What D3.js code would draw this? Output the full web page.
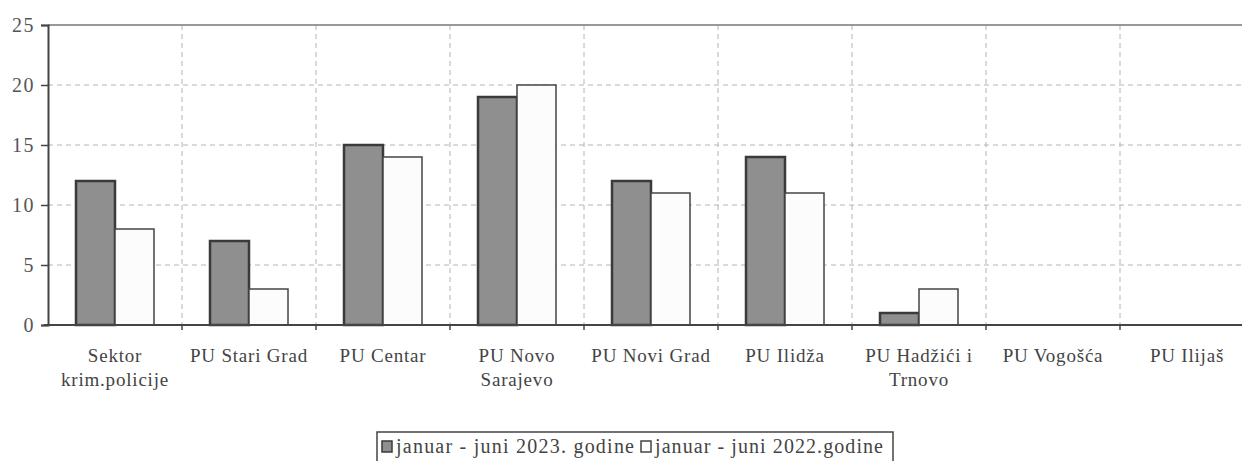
<!DOCTYPE html>
<html>
<head>
<meta charset="utf-8">
<script src="https://cdn.jsdelivr.net/npm/d3@7"></script>
<style>
  body { margin: 0; background: #fff; }
  svg text { font-family: "Liberation Serif", "Times New Roman", serif !important; }
</style>
</head>
<body>
<div id="chart"></div>
<script>
// Chart data
var categories = ["Sektor krim.policije", "PU Stari Grad", "PU Centar", "PU Novo Sarajevo",
    "PU Novi Grad", "PU Ilidža", "PU Hadžići i Trnovo", "PU Vogošća", "PU Ilijaš"];
// label lines as they wrap in the picture
var categoryLines = [["Sektor", "krim.policije"], ["PU Stari Grad"], ["PU Centar"], ["PU Novo", "Sarajevo"],
    ["PU Novi Grad"], ["PU Ilidža"], ["PU Hadžići i", "Trnovo"], ["PU Vogošća"], ["PU Ilijaš"]];
var seriesNames = ["januar - juni 2023. godine", "januar - juni 2022.godine"];
var values2023 = [12, 7, 15, 19, 12, 14, 1, 0, 0];
var values2022 = [8, 3, 14, 20, 11, 11, 3, 0, 0];
var yTicks = [0, 5, 10, 15, 20, 25];

var width = 1242;
var height = 461;
var serif = "'Liberation Serif', 'Times New Roman', serif";

var svg = d3.select("#chart")
    .append("svg")
    .attr("width", width)
    .attr("height", height)
    .style("font-family", serif);

// Scales - plot runs off the right edge like in the scan
var x0 = d3.scaleBand()
    .domain(categories)
    .range([48, 48 + 134 * 9])
    .padding(0);

var x1 = d3.scaleBand()
    .domain(seriesNames)
    .range([28, 106])
    .padding(0);

var y = d3.scaleLinear()
    .domain([0, 25])
    .range([325, 25]);

// Horizontal dashed grid lines
svg.append("g")
    .selectAll("line")
    .data(yTicks.filter(function (d) { return d > 0 && d < 25; }))
    .enter().append("line")
    .attr("x1", 48)
    .attr("x2", width)
    .attr("y1", function (d) { return y(d); })
    .attr("y2", function (d) { return y(d); })
    .attr("stroke", "#b4b4b4")
    .attr("stroke-width", 1)
    .attr("stroke-dasharray", "5,4");

// Vertical dashed grid lines between categories
svg.append("g")
    .selectAll("line")
    .data(categories.slice(1))
    .enter().append("line")
    .attr("x1", function (d) { return x0(d); })
    .attr("x2", function (d) { return x0(d); })
    .attr("y1", y(25))
    .attr("y2", y(0))
    .attr("stroke", "#b4b4b4")
    .attr("stroke-width", 1)
    .attr("stroke-dasharray", "5,4");

// Top border of the plot area
svg.append("line")
    .attr("x1", 48).attr("x2", width)
    .attr("y1", y(25)).attr("y2", y(25))
    .attr("stroke", "#777")
    .attr("stroke-width", 1.5);

// Bars
var rows = categories.map(function (c, i) {
    return { cat: c, vals: [values2023[i], values2022[i]] };
});

var groups = svg.append("g")
    .selectAll("g")
    .data(rows)
    .enter().append("g")
    .attr("transform", function (d) { return "translate(" + x0(d.cat) + ",0)"; });

groups.selectAll("rect")
    .data(function (d) {
        return d.vals.map(function (v, j) { return { name: seriesNames[j], value: v, idx: j }; })
            .filter(function (b) { return b.value > 0; });
    })
    .enter().append("rect")
    .attr("x", function (d) { return x1(d.name); })
    .attr("y", function (d) { return y(d.value); })
    .attr("width", x1.bandwidth())
    .attr("height", function (d) { return y(0) - y(d.value); })
    .attr("fill", function (d) { return d.idx === 0 ? "#8f8f8f" : "#fcfcfc"; })
    .attr("stroke", function (d) { return d.idx === 0 ? "#3a3a3a" : "#444"; })
    .attr("stroke-width", function (d) { return d.idx === 0 ? 2.5 : 1.5; });

// Y axis
var yAxis = d3.axisLeft(y)
    .tickValues(yTicks)
    .tickSize(7)
    .tickPadding(6);

var gy = svg.append("g")
    .attr("transform", "translate(48,0)")
    .call(yAxis)
    .attr("font-family", serif);
gy.select(".domain").attr("stroke", "#444").attr("stroke-width", 2);
gy.selectAll(".tick line").attr("stroke", "#444").attr("stroke-width", 1.5);
gy.selectAll(".tick text")
    .style("font-size", "20px")
    .style("letter-spacing", "1.5px")
    .attr("fill", "#555");

// X axis line with ticks at category boundaries
svg.append("line")
    .attr("x1", 44).attr("x2", width)
    .attr("y1", y(0)).attr("y2", y(0))
    .attr("stroke", "#444")
    .attr("stroke-width", 2);

svg.append("g")
    .selectAll("line")
    .data(categories.slice(1))
    .enter().append("line")
    .attr("x1", function (d) { return x0(d); })
    .attr("x2", function (d) { return x0(d); })
    .attr("y1", y(0))
    .attr("y2", y(0) + 5)
    .attr("stroke", "#444")
    .attr("stroke-width", 1.5);

// Category labels
var labels = svg.append("g")
    .selectAll("text")
    .data(categories)
    .enter().append("text")
    .attr("text-anchor", "middle")
    .attr("x", function (d) { return x0(d) + x0.bandwidth() / 2; })
    .attr("y", 362)
    .style("font-size", "19px")
    .style("letter-spacing", "0.8px")
    .attr("fill", "#444");

labels.selectAll("tspan")
    .data(function (d, i) { return categoryLines[i]; })
    .enter().append("tspan")
    .attr("x", function () { return d3.select(this.parentNode).attr("x"); })
    .attr("dy", function (d, i) { return i === 0 ? 0 : 24; })
    .text(function (d) { return d; });

// Legend
var legend = svg.append("g");
legend.append("rect")
    .attr("x", 377).attr("y", 432)
    .attr("width", 516).attr("height", 40)
    .attr("fill", "#fff")
    .attr("stroke", "#444")
    .attr("stroke-width", 1.5);

var legendX = [382, 641];
var legendTextWidth = [238, 228];
seriesNames.forEach(function (name, j) {
    legend.append("rect")
        .attr("x", legendX[j]).attr("y", 441)
        .attr("width", 10).attr("height", 11)
        .attr("fill", j === 0 ? "#8f8f8f" : "#fff")
        .attr("stroke", j === 0 ? "#3a3a3a" : "#444")
        .attr("stroke-width", 1.5);
    legend.append("text")
        .attr("x", legendX[j] + 14)
        .attr("y", 453)
        .attr("textLength", legendTextWidth[j])
        .attr("lengthAdjust", "spacing")
        .style("font-size", "20px")
        .attr("fill", "#444")
        .text(name);
});
</script>
</body>
</html>
